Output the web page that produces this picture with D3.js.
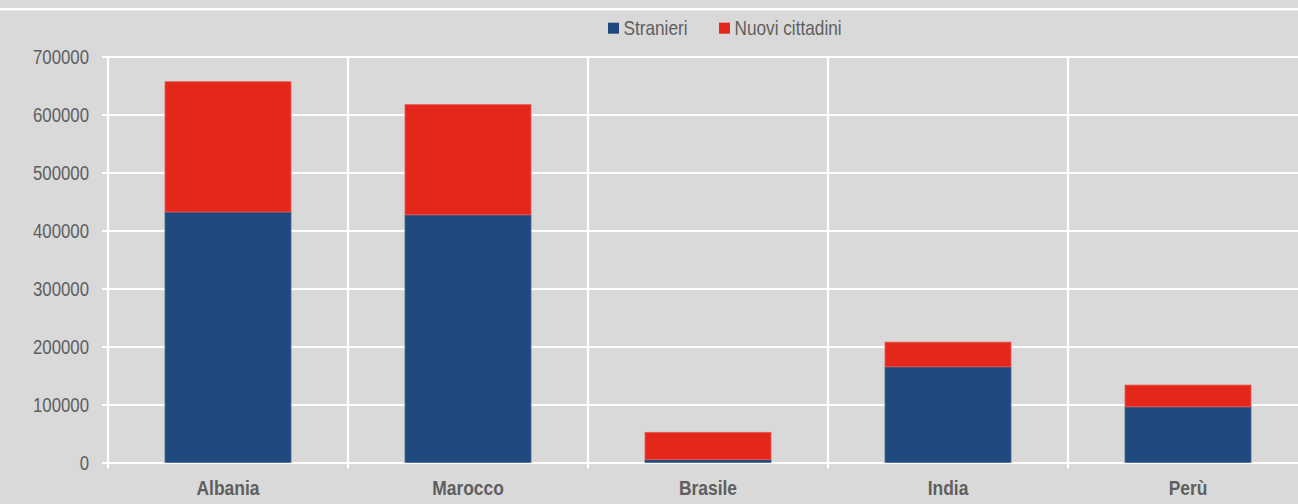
<!DOCTYPE html>
<html><head><meta charset="utf-8">
<script src="https://cdn.jsdelivr.net/npm/d3@7"></script>
<style>
html,body{margin:0;padding:0;background:#d9d9d9;}
svg{display:block;}
text{font-family:"Liberation Sans Narrow","Arial Narrow","Liberation Sans",Arial,sans-serif;fill:#5f5f5f;}
</style></head>
<body>
<svg id="c" width="1298" height="504"></svg>
<script>
const categories = ["Albania","Marocco","Brasile","India","Perù"];
const stranieri = [432000, 427000, 5000, 165000, 96000];
const nuoviCittadini = [224500, 190000, 47000, 42500, 37500];
const seriesNames = ["Stranieri","Nuovi cittadini"];
const seriesColors = ["#1f497d","#e3271a"];
const yTicks = [0,100000,200000,300000,400000,500000,600000,700000];

const W = 1298, H = 504;
const SX = 0.82; // horizontal condensation to mimic a narrow face
const SXB = 0.85;
const m = {left:108, top:56.5, bottom:462.5};
const svg = d3.select("#c");
svg.append("rect").attr("width",W).attr("height",H).attr("fill","#d9d9d9");
svg.append("line").attr("x1",0).attr("x2",W).attr("y1",9.3).attr("y2",9.3)
  .attr("stroke","#fff").attr("stroke-width",2.6);

const x = d3.scaleBand().domain(categories).range([m.left, m.left+240*categories.length]).paddingInner(0).paddingOuter(0);
const y = d3.scaleLinear().domain([0,700000]).range([m.bottom, m.top]);

const gy = svg.append("g").attr("transform",`translate(${m.left},0)`)
  .call(d3.axisLeft(y).tickValues(yTicks).tickSize(6).tickPadding(19).tickFormat(d3.format("d")));
gy.select(".domain").remove();
gy.selectAll(".tick line").attr("stroke","#fff").attr("stroke-width",2.2).attr("x1",-6).attr("x2",W);
gy.selectAll(".tick text").attr("font-size","20.5px").attr("fill","#5f5f5f").attr("font-family",null)
  .attr("x",-19/SX).attr("transform",`scale(${SX},1)`);

const seps = [m.left].concat(categories.map(c => x(c)+x.bandwidth()));
svg.append("g").selectAll("line").data(seps).join("line")
  .attr("x1",d=>d).attr("x2",d=>d).attr("y1",y(700000)).attr("y2",m.bottom+6)
  .attr("stroke","#fff").attr("stroke-width",2.2);

const data = categories.map((c,i)=>({cat:c, s0:stranieri[i], s1:nuoviCittadini[i]}));
const stack = d3.stack().keys(["s0","s1"])(data);
const bw = 126;
svg.append("g").selectAll("g").data(stack).join("g")
  .attr("fill",(d,i)=>seriesColors[i])
  .attr("stroke",(d,i)=>i===0?"#4a6a94":"#ea5a50").attr("stroke-width",0.8)
  .selectAll("rect").data(d=>d).join("rect")
  .attr("x",d=>x(d.data.cat)+x.bandwidth()/2-bw/2)
  .attr("width",bw)
  .attr("y",d=>y(d[1]))
  .attr("height",d=>y(d[0])-y(d[1]));

svg.append("g").selectAll("text").data(categories).join("text")
  .attr("transform",d=>`translate(${x(d)+x.bandwidth()/2},495) scale(${SXB},1)`)
  .attr("text-anchor","middle").attr("font-weight","bold").attr("font-size","20.5px")
  .text(d=>d);

const legX = [608, 719];
const lg = svg.append("g");
seriesNames.forEach((n,i)=>{
  lg.append("rect").attr("x",legX[i]).attr("y",22.7).attr("width",11).attr("height",11).attr("fill",seriesColors[i]);
  lg.append("text").attr("transform",`translate(${legX[i]+15.5},35) scale(${SX},1)`).attr("font-size","21px").text(n);
});
</script>
</body></html>
